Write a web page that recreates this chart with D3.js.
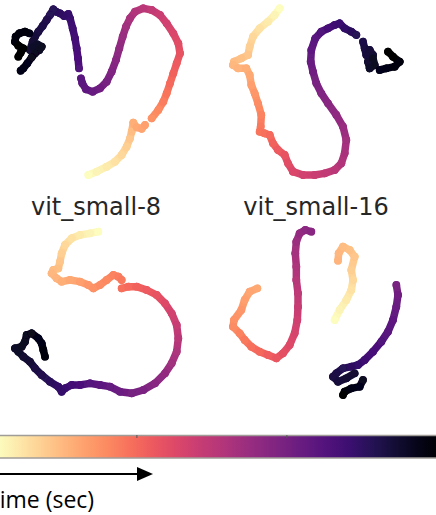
<!DOCTYPE html>
<html><head><meta charset="utf-8">
<script src="https://cdn.jsdelivr.net/npm/d3@7/dist/d3.min.js"></script>
<style>html,body{margin:0;padding:0;background:#fff;overflow:hidden}</style>
</head><body>
<script>
// Trajectory points: [x, y, time(0..1)], null = gap. Coordinates in panel units (0..654 x 0..540)
const trajTL = [[265,525,0],[290,515,.02],[320,500,.04],[345,485,.06],[365,465,.08],[380,440,.10],[390,415,.12],[395,395,.14],[400,368,.17],[410,382,.18],[425,386,.19],[435,375,.2],null,
[455,355,.23],[475,330,.25],[490,305,.27],[500,280,.29],[510,250,.31],[520,220,.33],[530,190,.35],[540,160,.37],[535,130,.39],[520,100,.41],[500,70,.43],[480,45,.45],[455,30,.47],[430,25,.49],[405,35,.51],[390,55,.53],[378,80,.55],[368,110,.57],[358,145,.59],[348,180,.61],[335,215,.63],[320,245,.65],[300,265,.67],[278,275,.69],[258,268,.71],[247,250,.72],[243,235,.73],null,
[237,205,.75],[234,175,.76],[230,145,.77],[225,115,.78],[218,85,.79],[210,55,.80],[205,42,.81],[192,48,.82],[180,40,.83],[168,35,.84],[160,28,.845],[150,45,.85],[140,60,.86],[128,78,.87],[115,95,.88],[105,110,.89],[98,125,.90],[90,150,.91],[100,140,.92],[112,133,.925],[125,140,.93],[118,150,.935],[105,160,.94],[95,172,.945],[82,190,.95],[70,205,.955],[62,212,.96],null,
[88,100,.965],[75,95,.97],[58,100,.975],[47,110,.98],[45,125,.985],[55,137,.99],[70,145,.993],[62,158,.996],[55,170,1]];

const trajTR = [[185,25,0],[170,45,.02],[150,65,.04],[125,85,.06],[105,110,.08],[95,140,.10],[90,165,.12],[70,175,.13],[48,185,.14],[45,195,.15],[60,205,.16],[85,205,.17],[95,225,.18],[100,255,.20],[110,280,.22],[120,310,.24],[130,345,.26],[128,380,.28],[125,395,.29],[140,400,.30],[155,405,.31],[165,430,.33],[180,450,.35],[200,465,.37],[210,490,.39],[225,515,.41],[255,525,.43],[290,525,.45],[320,520,.47],[350,510,.49],[370,490,.51],[380,460,.53],[385,420,.55],[375,380,.57],[355,345,.59],[330,310,.61],[310,280,.63],[295,250,.65],[285,215,.67],[278,185,.69],[280,150,.71],[292,115,.73],[310,95,.75],[330,85,.77],[350,75,.79],[365,70,.80],[380,85,.82],[400,95,.84],[415,105,.85],null,
[435,125,.87],[440,145,.88],[445,165,.89],[455,150,.895],[465,165,.90],[450,185,.91],[455,205,.92],[470,195,.93],[465,175,.935],null,
[485,210,.95],[505,205,.96],[530,200,.97],[545,185,.98],[525,170,.99],[510,155,1]];

const trajBL = [[295,35,0],[270,40,.02],[240,45,.04],[215,55,.06],[195,75,.08],[185,100,.10],[180,125,.12],[175,145,.13],[160,150,.14],[155,160,.15],[170,175,.16],[185,185,.17],[210,180,.18],[240,185,.20],[265,195,.22],[280,205,.23],[300,195,.24],[320,180,.25],[340,165,.26],[355,170,.27],[365,180,.28],null,
[365,205,.30],[385,200,.31],[410,200,.33],[440,210,.35],[470,225,.37],[495,250,.40],[515,280,.43],[530,315,.46],[535,355,.49],[530,395,.52],[515,430,.55],[495,460,.58],[465,490,.61],[430,510,.64],[395,520,.66],[360,515,.68],[330,500,.70],[300,495,.72],[270,490,.74],[240,495,.76],[215,495,.78],[195,505,.80],[185,515,.81],[175,500,.82],[150,485,.84],[125,465,.86],[105,445,.88],[90,425,.90],[70,410,.91],[55,395,.92],[45,385,.925],[65,380,.93],[75,365,.935],[80,345,.94],[95,340,.945],[115,355,.95],[125,370,.96],[130,390,.97],[135,410,.98]];

const trajBR = [[350,300,0],[365,270,.02],[385,240,.04],[400,210,.06],[405,180,.08],[400,150,.10],[410,110,.12],[395,90,.13],[375,80,.14],[362,100,.15],[360,122,.16],null,
[118,205,.18],[95,215,.19],[80,240,.20],[70,270,.22],[48,300,.23],[45,320,.24],[65,340,.26],[80,360,.28],[100,380,.30],[125,395,.32],[150,405,.34],[175,415,.36],[195,400,.38],[215,375,.40],[230,340,.42],[238,300,.44],[240,260,.46],[240,220,.48],[235,180,.50],[235,140,.52],[232,100,.54],[235,65,.56],[245,40,.58],[262,30,.60],[280,35,.61],null,
[535,195,.65],[540,225,.67],[535,260,.69],[525,300,.71],[510,335,.73],[490,365,.75],[465,395,.77],[440,420,.79],[420,435,.81],[400,440,.83],[375,445,.85],[355,460,.87],[345,470,.88],[360,485,.89],[385,475,.90],[410,460,.91],null,
[435,480,.93],[425,500,.95],[400,505,.96],[380,515,.98],[375,525,1]];

const panelLabels = ["vit_small-8", "vit_small-16"];
const colorbarTicks = [0.314, 0.658];
const axisLabel = "Time (sec)";

const W = 436, H = 515;
const svg = d3.select("body").append("svg").attr("width", W).attr("height", H);
const color = t => d3.interpolateMagma(1 - t);

const defs = svg.append("defs");
defs.append("filter").attr("id","soft").append("feGaussianBlur").attr("stdDeviation",0.6);

const panels = [
  {data: trajTL, ox: 0, oy: 0},
  {data: trajTR, ox: 218, oy: 0},
  {data: trajBL, ox: 0, oy: 220},
  {data: trajBR, ox: 218, oy: 220}
];

panels.forEach(p => {
  const x = d3.scaleLinear().domain([0, 654]).range([p.ox, p.ox + 218]);
  const y = d3.scaleLinear().domain([0, 540]).range([p.oy, p.oy + 180]);
  const segs = [];
  for (let i = 1; i < p.data.length; i++) {
    const a = p.data[i-1], b = p.data[i];
    if (a && b) segs.push([a, b]);
  }
  const g = svg.append("g").attr("filter", "url(#soft)");
  g.selectAll("line").data(segs).join("line")
    .attr("x1", d => x(d[0][0])).attr("y1", d => y(d[0][1]))
    .attr("x2", d => x(d[1][0])).attr("y2", d => y(d[1][1]))
    .attr("stroke", d => color((d[0][2] + d[1][2]) / 2))
    .attr("stroke-width", 7.5).attr("stroke-linecap", "round");
  g.selectAll("circle").data(p.data.filter(d => d)).join("circle")
    .attr("cx", d => x(d[0])).attr("cy", d => y(d[1])).attr("r", 3.9)
    .attr("fill", d => color(d[2]));
});

// Labels
svg.selectAll("text.lab").data(panelLabels).join("text")
  .attr("class","lab")
  .attr("x", (d,i) => i === 0 ? 96 : 316).attr("y", 215)
  .attr("text-anchor","middle")
  .style("font-family","DejaVu Sans").style("font-size","24px").attr("fill","#262626")
  .text(d => d);

// Colorbar
const cbX = d3.scaleLinear().domain([0, 1]).range([0, 436]);
const grad = defs.append("linearGradient").attr("id","cb").attr("x1","0%").attr("x2","100%");
d3.range(0, 1.0001, 0.05).forEach(t => grad.append("stop").attr("offset", (t*100)+"%").attr("stop-color", color(t)));
svg.append("rect").attr("x", cbX(0) - 2).attr("y", 435.5).attr("width", cbX(1) - cbX(0) + 4).attr("height", 22.5)
  .attr("fill","url(#cb)").attr("stroke","#a09c98").attr("stroke-width",1.5);
svg.selectAll("line.tick").data(colorbarTicks).join("line").attr("class","tick")
  .attr("x1", d => cbX(d)).attr("x2", d => cbX(d)).attr("y1", 435).attr("y2", 438)
  .attr("stroke","#555").attr("stroke-width",1);

// Arrow
svg.append("line").attr("x1", -2).attr("x2", 140).attr("y1", 474).attr("y2", 474)
  .attr("stroke","#000").attr("stroke-width",2);
svg.append("path").attr("d", "M137,467 L153,474 L137,481 Z").attr("fill","#000");

svg.append("text").attr("x", -13).attr("y", 508)
  .style("font-family","Open Sans").style("font-size","23px").attr("fill","#000")
  .text(axisLabel);
</script>
</body></html>
